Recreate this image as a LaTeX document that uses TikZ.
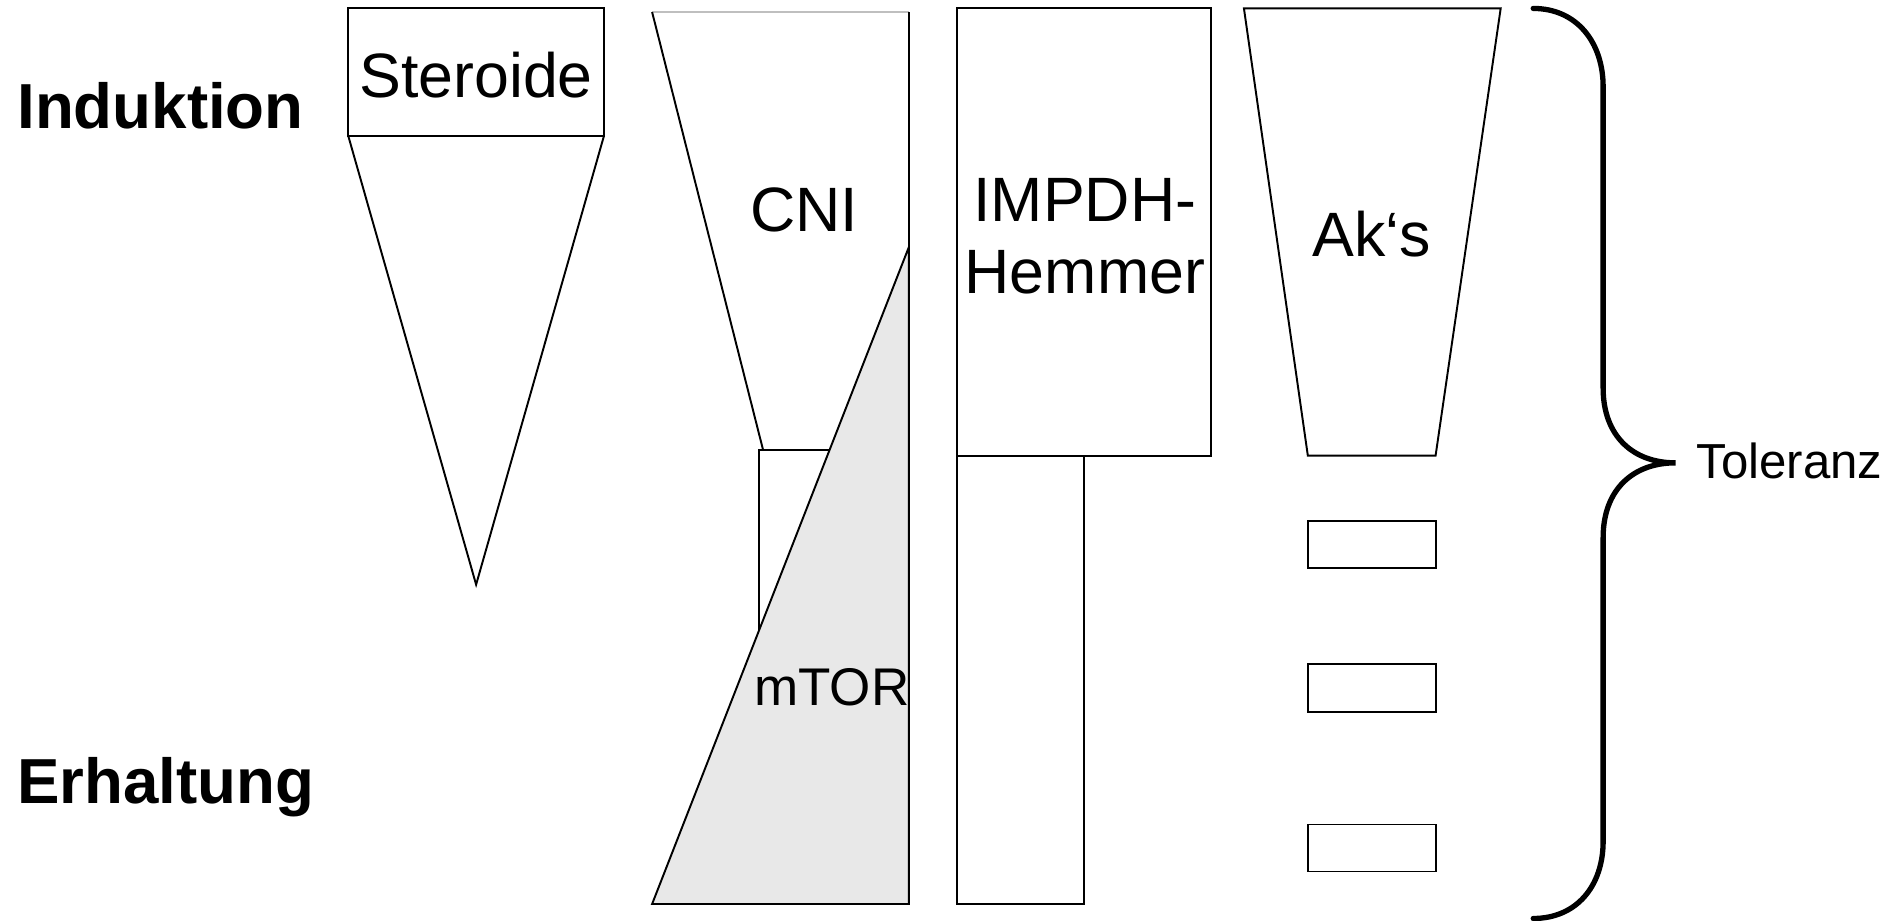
\documentclass[tikz,border=0pt]{standalone}
\usepackage{fontspec}
\setmainfont{Liberation Sans}
\begin{document}
\begin{tikzpicture}[x=0.5pt,y=-0.5pt,
  outl/.style={draw=black,line width=0.8pt,line join=miter},
  big/.style={font=\fontsize{26}{30}\selectfont,inner sep=0pt,align=center},
  mid/.style={font=\fontsize{22}{26}\selectfont,inner sep=0pt},
  bold/.style={font=\fontsize{26.4}{30}\selectfont\bfseries,inner sep=0pt},
  small/.style={font=\fontsize{20.4}{24}\selectfont,inner sep=0pt},
  brace/.style={draw=black,line width=2.2pt,line cap=round}]
\useasboundingbox (0,0) rectangle (1568,764);
% left labels
\node[bold,anchor=base west] (ind) at (14,107) {Induktion};
\node[bold,anchor=base west] (erh) at (14,667) {Erhaltung};
% Steroide
\draw[outl] (289,7) rectangle (501,113);
\draw[outl] (289,113) -- (395,485) -- (501,113);
\node[big,anchor=base] (ster) at (395,81) {Steroide};
% CNI
\draw[line width=0.6pt,draw=black!25] (541,10) -- (754,10);
\draw[outl] (541,10) -- (633,373);
\draw[outl] (754,10) -- (754,373);
\draw[outl] (630,373) rectangle (754,750);
\node[big,anchor=base] (cni) at (667,192) {CNI};
% mTOR
\fill[black!9] (754,205) -- (754,750) -- (541,750) -- cycle;
\draw[outl] (754,205) -- (754,750) -- (541,750) -- cycle;
\node[mid,anchor=base] (mtor) at (690,585) {mTOR};
% IMPDH
\draw[outl] (794,7) rectangle (1005,378);
\draw[outl] (794,378) rectangle (899,750);
\node[big] (imp) at (900,196) {IMPDH-\\Hemmer};
% Ak's
\draw[outl] (1032,7) -- (1245,7) -- (1191,378) -- (1085,378) -- cycle;
\node[big,anchor=base] (aks) at (1138,213) {Ak‘s};
\draw[outl] (1085,432) rectangle (1191,471);
\draw[outl] (1085,551) rectangle (1191,591);
\draw[outl] (1085,684) rectangle (1191,723);
% brace
\coordinate (btop) at (1272,7);
\coordinate (btip) at (1390,384);
\coordinate (bbot) at (1272,762);
\draw[brace] (btop) .. controls (1308,7) and (1330,35) .. (1330,72)
  -- (1330,322) .. controls (1330,362) and (1355,384) .. (btip)
  .. controls (1355,384) and (1330,406) .. (1330,446)
  -- (1330,698) .. controls (1330,735) and (1308,762) .. (bbot);
\node[small,anchor=base west] (tol) at (1407,397) {Toleranz};
\end{tikzpicture}
\end{document}
